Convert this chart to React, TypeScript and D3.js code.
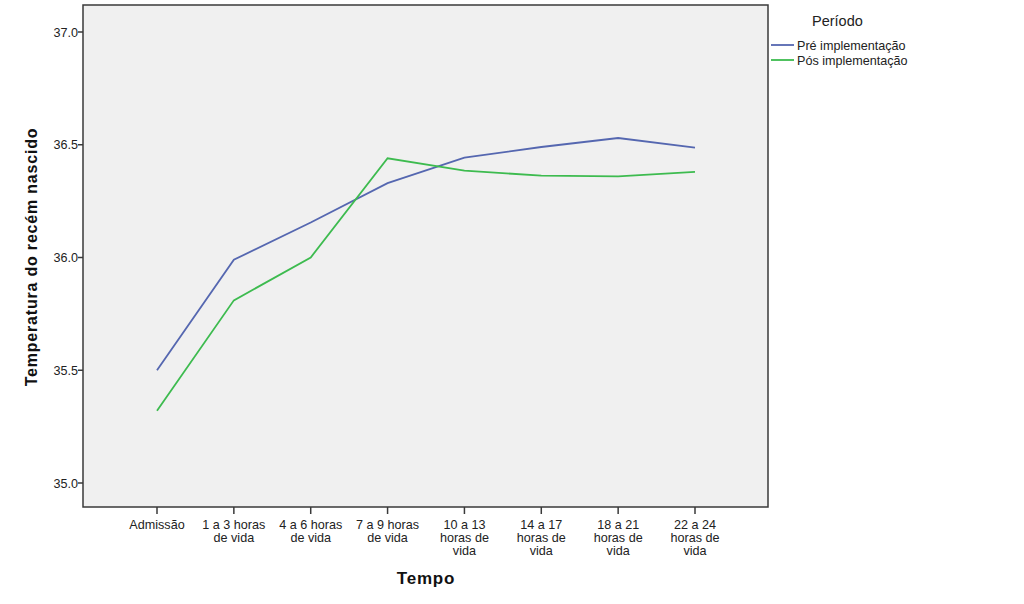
import React from "react";
import * as d3 from "d3";

const categories: string[][] = [
  ["Admissão"],
  ["1 a 3 horas", "de vida"],
  ["4 a 6 horas", "de vida"],
  ["7 a 9 horas", "de vida"],
  ["10 a 13", "horas de", "vida"],
  ["14 a 17", "horas de", "vida"],
  ["18 a 21", "horas de", "vida"],
  ["22 a 24", "horas de", "vida"],
];
const preValues = [35.5, 35.99, 36.155, 36.33, 36.443, 36.49, 36.53, 36.487];
const posValues = [35.32, 35.81, 36.0, 36.44, 36.385, 36.363, 36.36, 36.38];
const yTicks = [35.0, 35.5, 36.0, 36.5, 37.0];
const seriesNames = ["Pré implementação", "Pós implementação"];
const seriesColors = ["#5567b0", "#3dbb4f"];

export default function App() {
  const W = 1024, H = 604;
  const left = 83, right = 768, top = 5, bottom = 507;
  const font = "'Liberation Sans', Arial, sans-serif";
  const x = d3.scalePoint<number>().domain(d3.range(categories.length)).range([157, 695]);
  const y = d3.scaleLinear().domain([35, 37]).range([483, 32]);
  const line = d3.line<number>().x((_, i) => x(i)!).y((d) => y(d));
  const series = [preValues, posValues];
  return (
    <svg width={W} height={H} style={{ position: "absolute", left: 0, top: 0, background: "#fff" }} fontFamily={font}>
      <rect x={left} y={top} width={right - left} height={bottom - top} fill="#f0f0f0" stroke="#3a3a3a" strokeWidth={1.5} />
      {yTicks.map((t) => (
        <g key={t}>
          <line x1={left - 5} x2={left} y1={y(t)} y2={y(t)} stroke="#3a3a3a" strokeWidth={1.5} />
          <text x={left - 5} y={y(t) + 4.5} textAnchor="end" fontSize={12.6} fill="#222">{t.toFixed(1)}</text>
        </g>
      ))}
      {categories.map((c, i) => (
        <g key={i}>
          <line x1={x(i)} x2={x(i)} y1={bottom} y2={bottom + 7} stroke="#3a3a3a" strokeWidth={1.5} />
          {c.map((s, j) => (
            <text key={j} x={x(i)} y={529 + j * 13} textAnchor="middle" fontSize={12.6} fill="#222">{s}</text>
          ))}
        </g>
      ))}
      {series.map((s, k) => (
        <path key={k} d={line(s)!} fill="none" stroke={seriesColors[k]} strokeWidth={1.8} />
      ))}
      <text x={426} y={584} textAnchor="middle" fontSize={17} fontWeight="bold" letterSpacing={0.8} fill="#111">Tempo</text>
      <text transform={`translate(37,257) rotate(-90)`} textAnchor="middle" fontSize={16} fontWeight="bold" letterSpacing={0.8} fill="#111">Temperatura do recém nascido</text>
      <text x={812} y={26} fontSize={14.5} fill="#222">Período</text>
      {seriesNames.map((n, k) => (
        <g key={n}>
          <line x1={771} x2={794} y1={45 + k * 15} y2={45 + k * 15} stroke={seriesColors[k]} strokeWidth={1.8} />
          <text x={797} y={50 + k * 15} fontSize={12.6} fill="#222">{n}</text>
        </g>
      ))}
    </svg>
  );
}
